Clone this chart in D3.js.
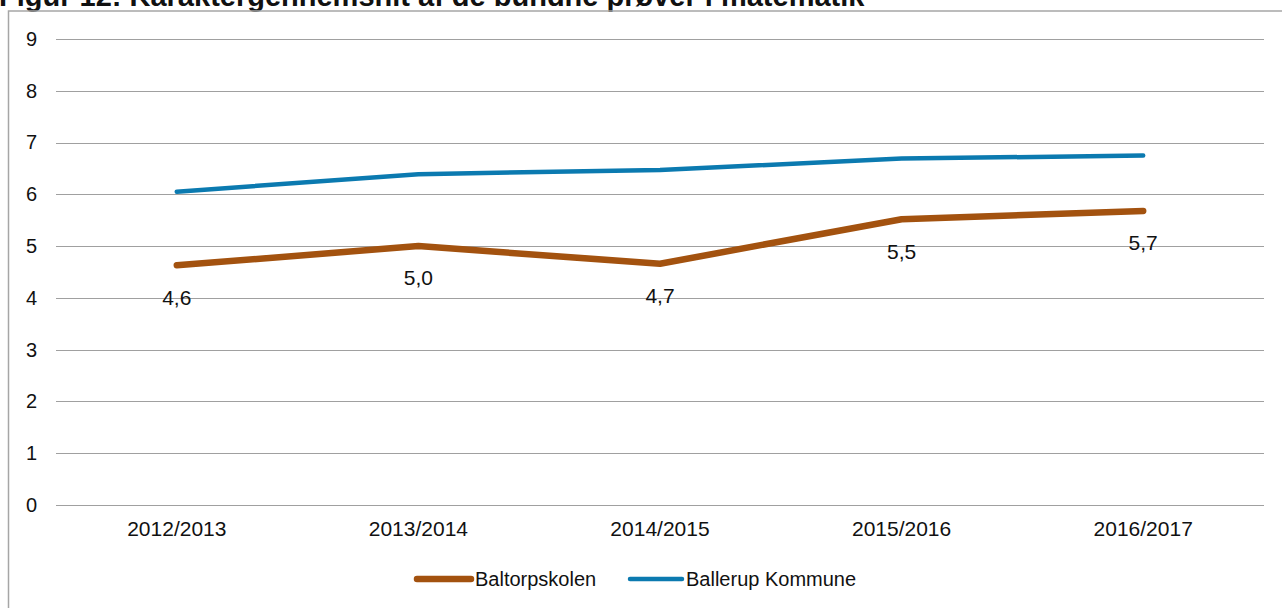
<!DOCTYPE html>
<html><head><meta charset="utf-8">
<script src="https://cdn.jsdelivr.net/npm/d3@7"></script>
<style>
html,body{margin:0;padding:0;background:#fff;overflow:hidden}
svg{display:block;font-family:"Liberation Sans",Arial,sans-serif}
</style></head>
<body>
<svg id="c" width="1282" height="608"></svg>
<script>
const title = "Figur 12: Karaktergennemsnit af de bundne prøver i matematik";
const categories = ["2012/2013","2013/2014","2014/2015","2015/2016","2016/2017"];
const baltorpskolen = [4.63, 5.0, 4.66, 5.52, 5.68];
const ballerup = [6.05, 6.39, 6.47, 6.69, 6.75];
const yTicks = [0,1,2,3,4,5,6,7,8,9];
const seriesNames = ["Baltorpskolen","Ballerup Kommune"];
const seriesColors = ["#A3520F","#0B7AB0"];

(function(){
const svg = d3.select("#c");
const pLeft = 56, pRight = 1264, pTop = 39, pBottom = 505;

// title (cut off at top, as in the source image)
svg.append("text").attr("x", -1).attr("y", 6)
  .attr("font-weight","bold").attr("font-size", 29).attr("fill","#111")
  .text(title);

// frame
svg.append("rect").attr("x", 8.5).attr("y", 11).attr("width", 1300).attr("height", 700)
  .attr("fill","none").attr("stroke","#A6A6A6").attr("stroke-width",1.5);

const x = d3.scaleBand().domain(categories).range([pLeft, pRight]);
const y = d3.scaleLinear().domain([0, 9]).range([pBottom, pTop]);

// grid
svg.append("g").selectAll("line").data(yTicks).join("line")
  .attr("x1", pLeft).attr("x2", pRight)
  .attr("y1", d => Math.round(y(d)) + 0.5).attr("y2", d => Math.round(y(d)) + 0.5)
  .attr("stroke","#A0A0A0").attr("stroke-width",1);

// y axis labels
const yAxis = svg.append("g").attr("transform", `translate(37,0)`)
  .call(d3.axisLeft(y).tickValues(yTicks).tickSize(0).tickPadding(0));
yAxis.select(".domain").remove();
yAxis.selectAll("text").attr("font-size",20).attr("fill","#111")
  .attr("font-family","Liberation Sans, Arial, sans-serif");

// x axis labels
const xAxis = svg.append("g").attr("transform", `translate(0,${pBottom})`)
  .call(d3.axisBottom(x).tickSize(0).tickPadding(16));
xAxis.select(".domain").remove();
xAxis.selectAll("text").attr("font-size",21).attr("fill","#111")
  .attr("font-family","Liberation Sans, Arial, sans-serif");

const cx = d => x(d) + x.bandwidth()/2;
const line = d3.line().x((d,i) => cx(categories[i])).y(d => y(d));

svg.append("path").datum(ballerup).attr("d", line)
  .attr("fill","none").attr("stroke", seriesColors[1]).attr("stroke-width",4.5)
  .attr("stroke-linecap","round").attr("stroke-linejoin","round");
svg.append("path").datum(baltorpskolen).attr("d", line)
  .attr("fill","none").attr("stroke", seriesColors[0]).attr("stroke-width",6.5)
  .attr("stroke-linecap","round").attr("stroke-linejoin","round");

// data labels
const fmt = v => d3.format(".1f")(v).replace(".", ",");
svg.append("g").selectAll("text").data(baltorpskolen).join("text")
  .attr("x", (d,i) => cx(categories[i]))
  .attr("y", d => y(d) + 32)
  .attr("dy","0.35em")
  .attr("text-anchor","middle").attr("font-size",21).attr("fill","#111")
  .text(fmt);

// legend
const legend = [
  {name: seriesNames[0], color: seriesColors[0], w: 6.5, x1: 417, x2: 471, tx: 475},
  {name: seriesNames[1], color: seriesColors[1], w: 4.5, x1: 630, x2: 682, tx: 686}
];
const lg = svg.append("g");
legend.forEach(l => {
  lg.append("line").attr("x1", l.x1).attr("x2", l.x2).attr("y1", 579).attr("y2", 579)
    .attr("stroke", l.color).attr("stroke-width", l.w).attr("stroke-linecap","round");
  lg.append("text").attr("x", l.tx).attr("y", 579).attr("dy","0.35em")
    .attr("font-size",20).attr("fill","#111").text(l.name);
});
})();
</script>
</body></html>
